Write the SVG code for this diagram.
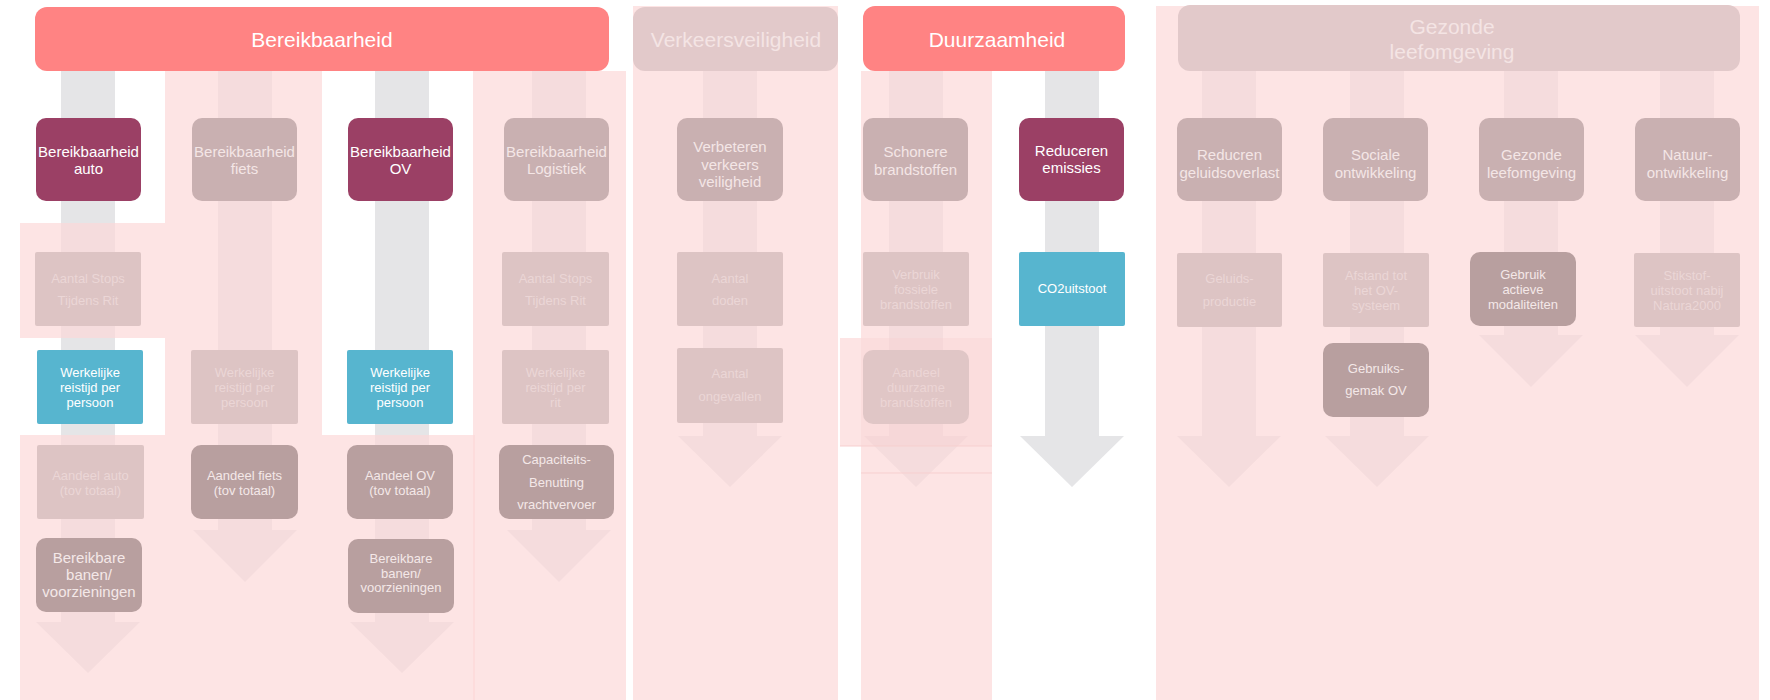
<svg xmlns="http://www.w3.org/2000/svg" width="1770" height="700" viewBox="0 0 1770 700">
<style>
text{font-family:"Liberation Sans",Arial,sans-serif;text-anchor:middle}
.hd{font-size:21px}
.t15{font-size:15px}
.t13{font-size:13px}
.ov{fill:rgb(252,216,216);fill-opacity:0.7}
.ov2{fill:rgb(250,205,205);fill-opacity:0.3}
.arr{fill:#E5E5E7}
.mag{fill:#9B4065}
.blue{fill:#57B5CF}
.dim{fill:#C9B0B1}
.lite{fill:#DDC4C4}
.dark{fill:#B89F9F}
.wt{fill:#FFFFFF}
.td{fill:#F4E6E6}
.tl{fill:#EBD6D6}
.tk{fill:#F4E8E8}
</style>
<rect width="1770" height="700" fill="#FFFFFF"/>
<g id="connectors">
<polygon class="arr" points="61,71 115,71 115,622 140,622 88,673 36,622 61,622"/>
<polygon class="arr" points="218,71 272,71 272,530 297,530 245,582 193,530 218,530"/>
<polygon class="arr" points="375,71 429,71 429,622 454,622 402,673 350,622 375,622"/>
<polygon class="arr" points="532,71 586,71 586,530 611,530 559,582 507,530 532,530"/>
<polygon class="arr" points="703,71 757,71 757,436 782,436 730,487 678,436 703,436"/>
<polygon class="arr" points="889,71 943,71 943,436 968,436 916,487 864,436 889,436"/>
<polygon class="arr" points="1045,71 1099,71 1099,436 1124,436 1072,487 1020,436 1045,436"/>
<polygon class="arr" points="1202,71 1256,71 1256,436 1281,436 1229,487 1177,436 1202,436"/>
<polygon class="arr" points="1350,71 1404,71 1404,436 1429,436 1377,487 1325,436 1350,436"/>
<polygon class="arr" points="1504,71 1558,71 1558,335 1583,335 1531,387 1479,335 1504,335"/>
<polygon class="arr" points="1660,71 1714,71 1714,335 1739,335 1687,387 1635,335 1660,335"/>
</g>
<g id="backgrounds">
<rect class="ov" x="165" y="71" width="157" height="629"/>
<rect class="ov" x="473" y="71" width="153" height="629"/>
<rect class="ov" x="20" y="223" width="145" height="115"/>
<rect class="ov" x="20" y="435" width="145" height="265"/>
<rect class="ov" x="322" y="435" width="153" height="265"/>
<rect class="ov" x="633" y="6" width="205" height="694"/>
<rect class="ov" x="861" y="71" width="131" height="629"/>
<rect class="ov" x="840" y="338" width="21" height="108"/>
<rect class="ov2" x="861" y="338" width="131" height="108"/>
<line x1="840" y1="446" x2="992" y2="446" stroke="#F7CFCF" stroke-width="1"/>
<line x1="861" y1="473" x2="992" y2="473" stroke="#F7CFCF" stroke-width="1"/>
<rect class="ov" x="1156" y="6" width="603" height="694"/>
</g>
<g id="h_bereikbaarheid">
<rect x="35" y="7" width="574" height="64" rx="12" fill="#FF8383"/>
<text class="hd wt" x="322" y="47">Bereikbaarheid</text>
</g>
<g id="h_verkeersveiligheid">
<rect x="633" y="7" width="205" height="64" rx="12" fill="#E2C9CA"/>
<text class="hd" x="736" y="47" fill="#F4E4E4">Verkeersveiligheid</text>
</g>
<g id="h_duurzaamheid">
<rect x="863" y="6" width="262" height="65" rx="12" fill="#FF8383"/>
<text class="hd wt" x="997" y="47">Duurzaamheid</text>
</g>
<g id="h_gezonde">
<rect x="1178" y="5" width="562" height="66" rx="12" fill="#E2C9CA"/>
<text class="hd" x="1452" y="34" fill="#F4E4E4">Gezonde</text>
<text class="hd" x="1452" y="59" fill="#F4E4E4">leefomgeving</text>
</g>
<!-- row 1 -->
<g id="n_ber_auto"><rect class="mag" x="36" y="118" width="105" height="83" rx="10"/><text class="t15 wt" x="88.5" y="157">Bereikbaarheid</text><text class="t15 wt" x="88.5" y="174">auto</text></g>
<g id="n_ber_fiets"><rect class="dim" x="192" y="118" width="105" height="83" rx="10"/><text class="t15 td" x="244.5" y="157">Bereikbaarheid</text><text class="t15 td" x="244.5" y="174">fiets</text></g>
<g id="n_ber_ov"><rect class="mag" x="348" y="118" width="105" height="83" rx="10"/><text class="t15 wt" x="400.5" y="157">Bereikbaarheid</text><text class="t15 wt" x="400.5" y="174">OV</text></g>
<g id="n_ber_log"><rect class="dim" x="504" y="118" width="105" height="83" rx="10"/><text class="t15 td" x="556.5" y="157">Bereikbaarheid</text><text class="t15 td" x="556.5" y="174">Logistiek</text></g>
<g id="n_verbeteren"><rect class="dim" x="677" y="118" width="106" height="83" rx="10"/><text class="t15 td" x="730" y="152">Verbeteren</text><text class="t15 td" x="730" y="169.5">verkeers</text><text class="t15 td" x="730" y="187">veiligheid</text></g>
<g id="n_schonere"><rect class="dim" x="863" y="118" width="105" height="83" rx="10"/><text class="t15 td" x="915.5" y="157">Schonere</text><text class="t15 td" x="915.5" y="174.5">brandstoffen</text></g>
<g id="n_reduceren"><rect class="mag" x="1019" y="118" width="105" height="83" rx="10"/><text class="t15 wt" x="1071.5" y="156">Reduceren</text><text class="t15 wt" x="1071.5" y="173">emissies</text></g>
<g id="n_reducren"><rect class="dim" x="1177" y="118" width="105" height="83" rx="10"/><text class="t15 td" x="1229.5" y="160">Reducren</text><text class="t15 td" x="1229.5" y="177.5">geluidsoverlast</text></g>
<g id="n_sociale"><rect class="dim" x="1323" y="118" width="105" height="83" rx="10"/><text class="t15 td" x="1375.5" y="160">Sociale</text><text class="t15 td" x="1375.5" y="177.5">ontwikkeling</text></g>
<g id="n_gezonde"><rect class="dim" x="1479" y="118" width="105" height="83" rx="10"/><text class="t15 td" x="1531.5" y="160">Gezonde</text><text class="t15 td" x="1531.5" y="177.5">leefomgeving</text></g>
<g id="n_natuur"><rect class="dim" x="1635" y="118" width="105" height="83" rx="10"/><text class="t15 td" x="1687.5" y="160">Natuur-</text><text class="t15 td" x="1687.5" y="177.5">ontwikkeling</text></g>
<!-- row 2 -->
<g id="n_stops_auto"><rect class="lite" x="35" y="252" width="106" height="74" rx="2"/><text class="t13 tl" x="88" y="283">Aantal Stops</text><text class="t13 tl" x="88" y="305">Tijdens Rit</text></g>
<g id="n_stops_log"><rect class="lite" x="502" y="252" width="107" height="74" rx="2"/><text class="t13 tl" x="555.5" y="283">Aantal Stops</text><text class="t13 tl" x="555.5" y="305">Tijdens Rit</text></g>
<g id="n_doden"><rect class="lite" x="677" y="252" width="106" height="74" rx="2"/><text class="t13 tl" x="730" y="283">Aantal</text><text class="t13 tl" x="730" y="305">doden</text></g>
<g id="n_verbruik"><rect class="lite" x="863" y="252" width="106" height="74" rx="2"/><text class="t13 tl" x="916" y="279">Verbruik</text><text class="t13 tl" x="916" y="294">fossiele</text><text class="t13 tl" x="916" y="309">brandstoffen</text></g>
<g id="n_co2"><rect class="blue" x="1019" y="252" width="106" height="74" rx="2"/><text class="t13 wt" x="1072" y="293">CO2uitstoot</text></g>
<g id="n_geluids"><rect class="lite" x="1177" y="253" width="105" height="74" rx="2"/><text class="t13 tl" x="1229.5" y="283">Geluids-</text><text class="t13 tl" x="1229.5" y="306">productie</text></g>
<g id="n_afstand"><rect class="lite" x="1323" y="253" width="106" height="74" rx="2"/><text class="t13 tl" x="1376" y="279.5">Afstand tot</text><text class="t13 tl" x="1376" y="294.5">het OV-</text><text class="t13 tl" x="1376" y="309.5">systeem</text></g>
<g id="n_actieve"><rect class="dark" x="1470" y="252" width="106" height="74" rx="10"/><text class="t13 tk" x="1523" y="279">Gebruik</text><text class="t13 tk" x="1523" y="293.5">actieve</text><text class="t13 tk" x="1523" y="308.5">modaliteiten</text></g>
<g id="n_stikstof"><rect class="lite" x="1634" y="253" width="106" height="74" rx="2"/><text class="t13 tl" x="1687" y="279.5">Stikstof-</text><text class="t13 tl" x="1687" y="294.5">uitstoot nabij</text><text class="t13 tl" x="1687" y="309.5">Natura2000</text></g>
<!-- row 3 -->
<g id="n_werk_auto"><rect class="blue" x="37" y="350" width="106" height="74" rx="2"/><text class="t13 wt" x="90" y="377">Werkelijke</text><text class="t13 wt" x="90" y="392">reistijd per</text><text class="t13 wt" x="90" y="407">persoon</text></g>
<g id="n_werk_fiets"><rect class="lite" x="191" y="350" width="107" height="74" rx="2"/><text class="t13 tl" x="244.5" y="377">Werkelijke</text><text class="t13 tl" x="244.5" y="392">reistijd per</text><text class="t13 tl" x="244.5" y="407">persoon</text></g>
<g id="n_werk_ov"><rect class="blue" x="347" y="350" width="106" height="74" rx="2"/><text class="t13 wt" x="400" y="377">Werkelijke</text><text class="t13 wt" x="400" y="392">reistijd per</text><text class="t13 wt" x="400" y="407">persoon</text></g>
<g id="n_werk_rit"><rect class="lite" x="502" y="350" width="107" height="74" rx="2"/><text class="t13 tl" x="555.5" y="377">Werkelijke</text><text class="t13 tl" x="555.5" y="392">reistijd per</text><text class="t13 tl" x="555.5" y="407">rit</text></g>
<g id="n_ongevallen"><rect class="lite" x="677" y="348" width="106" height="75" rx="2"/><text class="t13 tl" x="730" y="378">Aantal</text><text class="t13 tl" x="730" y="400.5">ongevallen</text></g>
<g id="n_duurzame"><rect x="863" y="350" width="106" height="74" rx="10" fill="#E0C6C6"/><text class="t13" fill="#ECD5D5" x="916" y="377">Aandeel</text><text class="t13" fill="#ECD5D5" x="916" y="392">duurzame</text><text class="t13" fill="#ECD5D5" x="916" y="407">brandstoffen</text></g>
<g id="n_gemak"><rect class="dark" x="1323" y="343" width="106" height="74" rx="10"/><text class="t13 tk" x="1376" y="373">Gebruiks-</text><text class="t13 tk" x="1376" y="395">gemak OV</text></g>
<!-- row 4 -->
<g id="n_aandeel_auto"><rect class="lite" x="37" y="445" width="107" height="74" rx="2"/><text class="t13 tl" x="90.5" y="480">Aandeel auto</text><text class="t13 tl" x="90.5" y="495">(tov totaal)</text></g>
<g id="n_aandeel_fiets"><rect class="dark" x="191" y="445" width="107" height="74" rx="10"/><text class="t13 tk" x="244.5" y="480">Aandeel fiets</text><text class="t13 tk" x="244.5" y="495">(tov totaal)</text></g>
<g id="n_aandeel_ov"><rect class="dark" x="347" y="445" width="106" height="74" rx="10"/><text class="t13 tk" x="400" y="480">Aandeel OV</text><text class="t13 tk" x="400" y="495">(tov totaal)</text></g>
<g id="n_capaciteit"><rect class="dark" x="499" y="445" width="115" height="74" rx="10"/><text class="t13 tk" x="556.5" y="464">Capaciteits-</text><text class="t13 tk" x="556.5" y="486.5">Benutting</text><text class="t13 tk" x="556.5" y="509">vrachtvervoer</text></g>
<!-- row 5 -->
<g id="n_banen_auto"><rect class="dark" x="36" y="538" width="106" height="74" rx="10"/><text class="t15 tk" x="89" y="563">Bereikbare</text><text class="t15 tk" x="89" y="580">banen/</text><text class="t15 tk" x="89" y="597">voorzieningen</text></g>
<g id="n_banen_ov"><rect class="dark" x="348" y="539" width="106" height="74" rx="10"/><text class="t13 tk" x="401" y="563">Bereikbare</text><text class="t13 tk" x="401" y="577.5">banen/</text><text class="t13 tk" x="401" y="592">voorzieningen</text></g>
</svg>
